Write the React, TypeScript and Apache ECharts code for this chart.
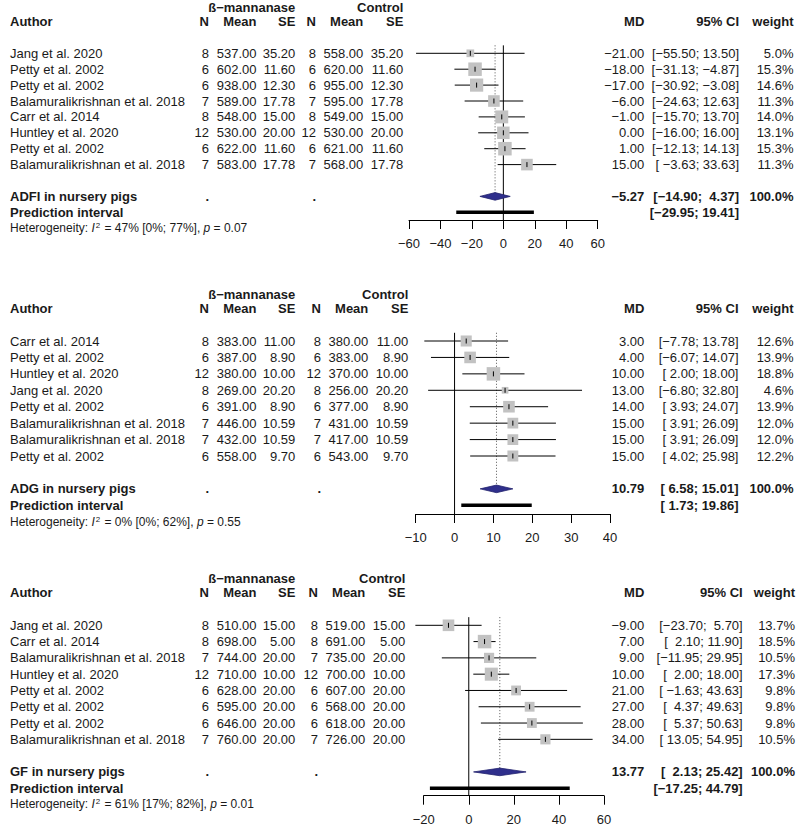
import React, { useEffect, useRef } from "react";
import * as echarts from "echarts";

const FONT = "'Liberation Sans', Arial, Helvetica, sans-serif";
const MINUS = "\u2212";
const NBSP = "\u00a0";
const TEXT_COLOR = "#1a1a1a";

// ---------- ADFI ----------
const adfiAuthors = ["Jang et al. 2020", "Petty et al. 2002", "Petty et al. 2002", "Balamuralikrishnan et al. 2018", "Carr et al. 2014", "Huntley et al. 2020", "Petty et al. 2002", "Balamuralikrishnan et al. 2018"];
const adfiTrtN = [8, 6, 6, 7, 8, 12, 6, 7];
const adfiTrtMean = [537, 602, 938, 589, 548, 530, 622, 583];
const adfiTrtSE = [35.2, 11.6, 12.3, 17.78, 15, 20, 11.6, 17.78];
const adfiCtlN = [8, 6, 6, 7, 8, 12, 6, 7];
const adfiCtlMean = [558, 620, 955, 595, 549, 530, 621, 568];
const adfiCtlSE = [35.2, 11.6, 12.3, 17.78, 15, 20, 11.6, 17.78];
const adfiMD = [-21, -18, -17, -6, -1, 0, 1, 15];
const adfiLower = [-55.5, -31.13, -30.92, -24.63, -15.7, -16, -12.13, -3.63];
const adfiUpper = [13.5, -4.87, -3.08, 12.63, 13.7, 16, 14.13, 33.63];
const adfiWeight = [5.0, 15.3, 14.6, 11.3, 14.0, 13.1, 15.3, 11.3];
const adfiSummary = [-5.27, -14.9, 4.37];
const adfiPred = [-29.95, 19.41];
const adfiHet = [47, 0, 77];
const adfiP = "0.07";
const adfiTicks = [-60, 60, 20];

// ---------- ADG ----------
const adgAuthors = ["Carr et al. 2014", "Petty et al. 2002", "Huntley et al. 2020", "Jang et al. 2020", "Petty et al. 2002", "Balamuralikrishnan et al. 2018", "Balamuralikrishnan et al. 2018", "Petty et al. 2002"];
const adgTrtN = [8, 6, 12, 8, 6, 7, 7, 6];
const adgTrtMean = [383, 387, 380, 269, 391, 446, 432, 558];
const adgTrtSE = [11, 8.9, 10, 20.2, 8.9, 10.59, 10.59, 9.7];
const adgCtlN = [8, 6, 12, 8, 6, 7, 7, 6];
const adgCtlMean = [380, 383, 370, 256, 377, 431, 417, 543];
const adgCtlSE = [11, 8.9, 10, 20.2, 8.9, 10.59, 10.59, 9.7];
const adgMD = [3, 4, 10, 13, 14, 15, 15, 15];
const adgLower = [-7.78, -6.07, 2, -6.8, 3.93, 3.91, 3.91, 4.02];
const adgUpper = [13.78, 14.07, 18, 32.8, 24.07, 26.09, 26.09, 25.98];
const adgWeight = [12.6, 13.9, 18.8, 4.6, 13.9, 12.0, 12.0, 12.2];
const adgSummary = [10.79, 6.58, 15.01];
const adgPred = [1.73, 19.86];
const adgHet = [0, 0, 62];
const adgP = "0.55";
const adgTicks = [-10, 40, 10];

// ---------- GF ----------
const gfAuthors = ["Jang et al. 2020", "Carr et al. 2014", "Balamuralikrishnan et al. 2018", "Huntley et al. 2020", "Petty et al. 2002", "Petty et al. 2002", "Petty et al. 2002", "Balamuralikrishnan et al. 2018"];
const gfTrtN = [8, 8, 7, 12, 6, 6, 6, 7];
const gfTrtMean = [510, 698, 744, 710, 628, 595, 646, 760];
const gfTrtSE = [15, 5, 20, 10, 20, 20, 20, 20];
const gfCtlN = [8, 8, 7, 12, 6, 6, 6, 7];
const gfCtlMean = [519, 691, 735, 700, 607, 568, 618, 726];
const gfCtlSE = [15, 5, 20, 10, 20, 20, 20, 20];
const gfMD = [-9, 7, 9, 10, 21, 27, 28, 34];
const gfLower = [-23.7, 2.1, -11.95, 2, -1.63, 4.37, 5.37, 13.05];
const gfUpper = [5.7, 11.9, 29.95, 18, 43.63, 49.63, 50.63, 54.95];
const gfWeight = [13.7, 18.5, 10.5, 17.3, 9.8, 9.8, 9.8, 10.5];
const gfSummary = [13.77, 2.13, 25.42];
const gfPred = [-17.25, 44.79];
const gfHet = [61, 17, 82];
const gfP = "0.01";
const gfTicks = [-20, 60, 20];

const panelTitles = ["ADFI in nursery pigs", "ADG in nursery pigs", "GF in nursery pigs"];
const trtLabel = "ß" + MINUS + "mannanase";
const ctlLabel = "Control";

// ---------- layout (pixels) ----------
const layouts = [
  { left: 409, width: 188.7, r0: 53.3, sp: 15.9, axisY: 220, bracket: 739, weight: 793.5, ctlShift: 0 },
  { left: 415.7, width: 194.3, r0: 341, sp: 16.43, axisY: 514, bracket: 738.5, weight: 793.5, ctlShift: 5 },
  { left: 423.7, width: 180.3, r0: 625.3, sp: 16.29, axisY: 795.7, bracket: 742.7, weight: 795, ctlShift: 2 },
];
const AUTHOR_X = 10;
const TRT = { n: 209, mean: 256.5, se: 295.3 };
const CTL = { n: 316, mean: 363.3, se: 403.3 };
const MD_X = 644.3;
const MAX_SQ = 13.5;
const GROUP_ROW = -2.85;

const fmt = (v: number, d = 2) => (v < 0 ? MINUS : "") + Math.abs(v).toFixed(d);
const padL = (s: string, n: number) => NBSP.repeat(Math.max(0, n - s.length)) + s;

type Cell = { row: number; x: number; text: string; align: string; bold?: boolean; size?: number; rich?: any };

function buildPanel(
  idx: number,
  authors: string[], trtN: number[], trtMean: number[], trtSE: number[],
  ctlN: number[], ctlMean: number[], ctlSE: number[],
  md: number[], lower: number[], upper: number[], weight: number[],
  summary: number[], pred: number[], het: number[], p: string, ticks: number[]
) {
  const L = layouts[idx];
  const axisRow = (L.axisY - L.r0) / L.sp;
  const top = L.r0 - 3 * L.sp;
  const ctl = { n: CTL.n + L.ctlShift, mean: CTL.mean + L.ctlShift, se: CTL.se + L.ctlShift };

  const allLo = [...lower, summary[1], pred[0]].map((v) => fmt(v));
  const allHi = [...upper, summary[2], pred[1]].map((v) => fmt(v));
  const loW = Math.max(...allLo.map((s) => s.length));
  const hiW = Math.max(...allHi.map((s) => s.length));
  const ciS = allLo.map((s, i) => "[" + padL(s, loW) + ";" + NBSP + padL(allHi[i], hiW) + "]");

  const cells: Cell[] = [];
  cells.push({ row: GROUP_ROW, x: TRT.se, text: trtLabel, align: "right", bold: true });
  cells.push({ row: GROUP_ROW, x: ctl.se, text: ctlLabel, align: "right", bold: true });
  cells.push({ row: -2, x: AUTHOR_X, text: "Author", align: "left", bold: true });
  [[TRT.n, "N"], [TRT.mean, "Mean"], [TRT.se, "SE"], [ctl.n, "N"], [ctl.mean, "Mean"], [ctl.se, "SE"], [MD_X, "MD"], [L.bracket, "95% CI"], [L.weight, "weight"]].forEach(([x, t]) =>
    cells.push({ row: -2, x: x as number, text: t as string, align: "right", bold: true })
  );
  authors.forEach((a, i) => {
    cells.push({ row: i, x: AUTHOR_X, text: a, align: "left" });
    cells.push({ row: i, x: TRT.n, text: String(trtN[i]), align: "right" });
    cells.push({ row: i, x: TRT.mean, text: trtMean[i].toFixed(2), align: "right" });
    cells.push({ row: i, x: TRT.se, text: trtSE[i].toFixed(2), align: "right" });
    cells.push({ row: i, x: ctl.n, text: String(ctlN[i]), align: "right" });
    cells.push({ row: i, x: ctl.mean, text: ctlMean[i].toFixed(2), align: "right" });
    cells.push({ row: i, x: ctl.se, text: ctlSE[i].toFixed(2), align: "right" });
    cells.push({ row: i, x: MD_X, text: fmt(md[i]), align: "right" });
    cells.push({ row: i, x: L.bracket, text: ciS[i], align: "right" });
    cells.push({ row: i, x: L.weight, text: weight[i].toFixed(1) + "%", align: "right" });
  });
  const n = authors.length;
  const sRow = n + 1;
  const pRow = n + 2;
  cells.push({ row: sRow, x: AUTHOR_X, text: panelTitles[idx], align: "left", bold: true });
  cells.push({ row: sRow, x: TRT.n, text: ".", align: "right", bold: true });
  cells.push({ row: sRow, x: ctl.n, text: ".", align: "right", bold: true });
  cells.push({ row: sRow, x: MD_X, text: fmt(summary[0]), align: "right", bold: true });
  cells.push({ row: sRow, x: L.bracket, text: ciS[n], align: "right", bold: true });
  cells.push({ row: sRow, x: L.weight, text: "100.0%", align: "right", bold: true });
  cells.push({ row: pRow, x: AUTHOR_X, text: "Prediction interval", align: "left", bold: true });
  cells.push({ row: pRow, x: L.bracket, text: ciS[n + 1], align: "right", bold: true });
  cells.push({
    row: pRow + 1, x: AUTHOR_X, align: "left", size: 12,
    text: `Heterogeneity: {i|I}{sup|2} = ${het[0]}% [${het[1]}%; ${het[2]}%], {i|p} = ${p}`,
    rich: {
      i: { fontStyle: "italic", fontSize: 12, fontFamily: FONT, fill: TEXT_COLOR },
      sup: { fontSize: 8, fontFamily: FONT, fill: TEXT_COLOR, verticalAlign: "top", textVerticalAlign: "top", padding: [0, 1, 5, 1] },
    },
  });

  const maxW = Math.max(...weight);
  const grid = { left: L.left, width: L.width, top, height: L.axisY - top };
  const xAxis = {
    gridIndex: idx, type: "value", min: ticks[0], max: ticks[1], interval: ticks[2],
    position: "bottom",
    axisLine: { show: true, onZero: false, lineStyle: { color: "#000", width: 1 } },
    axisTick: { show: true, inside: false, length: 9, lineStyle: { color: "#000", width: 1 } },
    axisLabel: {
      margin: 17, fontSize: 13, fontFamily: FONT, color: TEXT_COLOR,
      formatter: (v: number) => (v < 0 ? MINUS + Math.abs(v) : String(v)),
    },
    splitLine: { show: false },
  };
  const yAxis = { gridIndex: idx, type: "value", inverse: true, min: -3, max: axisRow, show: false };

  const refSeries = {
    type: "custom", xAxisIndex: idx, yAxisIndex: idx, silent: true,
    data: [[summary[0], sRow, 0]],
    encode: { x: 0, y: 1 },
    renderItem: (params: any, api: any) => {
      const m = api.value(0);
      const z0 = api.coord([0, -0.5]);
      const z1 = api.coord([0, axisRow]);
      const d0 = api.coord([m, -0.5]);
      const d1 = api.coord([m, sRow]);
      return {
        type: "group",
        children: [
          { type: "line", shape: { x1: d0[0], y1: d0[1], x2: d1[0], y2: d1[1] }, style: { stroke: "#555", lineWidth: 1, lineDash: [1, 2] } },
          { type: "line", shape: { x1: z0[0], y1: z0[1], x2: z1[0], y2: z1[1] }, style: { stroke: "#000", lineWidth: 1 } },
        ],
      };
    },
  };

  const studySeries = {
    type: "custom", xAxisIndex: idx, yAxisIndex: idx, silent: true,
    data: md.map((m, i) => [lower[i], upper[i], i, m, weight[i]]),
    encode: { x: [0, 1, 3], y: 2 },
    renderItem: (params: any, api: any) => {
      const r = api.value(2);
      const lo = api.coord([api.value(0), r]);
      const hi = api.coord([api.value(1), r]);
      const c = api.coord([api.value(3), r]);
      const s = MAX_SQ * Math.sqrt(api.value(4) / maxW);
      return {
        type: "group",
        children: [
          { type: "line", shape: { x1: lo[0], y1: lo[1], x2: hi[0], y2: hi[1] }, style: { stroke: "#000", lineWidth: 1 } },
          { type: "rect", shape: { x: c[0] - s / 2, y: c[1] - s / 2, width: s, height: s }, style: { fill: "#c2c2c2" } },
          { type: "line", shape: { x1: c[0], y1: c[1] - 2.5, x2: c[0], y2: c[1] + 2.5 }, style: { stroke: "#000", lineWidth: 1 } },
        ],
      };
    },
  };

  const summarySeries = {
    type: "custom", xAxisIndex: idx, yAxisIndex: idx, silent: true,
    data: [[summary[0], summary[1], summary[2], pred[0], pred[1]]],
    encode: { x: [0, 1, 2, 3, 4] },
    renderItem: (params: any, api: any) => {
      const l = api.coord([api.value(1), sRow]);
      const m = api.coord([api.value(0), sRow]);
      const h = api.coord([api.value(2), sRow]);
      const p0 = api.coord([api.value(3), pRow]);
      const p1 = api.coord([api.value(4), pRow]);
      const hh = 3.8;
      return {
        type: "group",
        children: [
          { type: "polygon", shape: { points: [[l[0], l[1]], [m[0], m[1] - hh], [h[0], h[1]], [m[0], m[1] + hh]] }, style: { fill: "#2f2f8c", stroke: "#24246e", lineWidth: 0.8 } },
          { type: "line", shape: { x1: p0[0], y1: p0[1], x2: p1[0], y2: p1[1] }, style: { stroke: "#000", lineWidth: 3.5 } },
        ],
      };
    },
  };

  const textSeries = {
    type: "custom", xAxisIndex: idx, yAxisIndex: idx, silent: true,
    data: cells.map((c) => [ticks[0], c.row]),
    encode: { x: 0, y: 1 },
    renderItem: (params: any, api: any) => {
      const cell = cells[params.dataIndex];
      const pt = api.coord([ticks[0], cell.row]);
      const style: any = {
        text: cell.text,
        textAlign: cell.align, align: cell.align,
        textVerticalAlign: "middle", verticalAlign: "middle",
        fontSize: cell.size || 13,
        fontWeight: cell.bold ? "bold" : "normal",
        fontFamily: FONT,
        fill: TEXT_COLOR,
      };
      if (cell.rich) style.rich = cell.rich;
      return { type: "text", x: cell.x, y: pt[1], style };
    },
  };

  return { grid, xAxis, yAxis, series: [refSeries, studySeries, summarySeries, textSeries] };
}

export default function App() {
  const ref = useRef<HTMLDivElement>(null);
  useEffect(() => {
    if (!ref.current) return;
    const chart = echarts.init(ref.current, undefined, { renderer: "svg" });
    const panels = [
      buildPanel(0, adfiAuthors, adfiTrtN, adfiTrtMean, adfiTrtSE, adfiCtlN, adfiCtlMean, adfiCtlSE, adfiMD, adfiLower, adfiUpper, adfiWeight, adfiSummary, adfiPred, adfiHet, adfiP, adfiTicks),
      buildPanel(1, adgAuthors, adgTrtN, adgTrtMean, adgTrtSE, adgCtlN, adgCtlMean, adgCtlSE, adgMD, adgLower, adgUpper, adgWeight, adgSummary, adgPred, adgHet, adgP, adgTicks),
      buildPanel(2, gfAuthors, gfTrtN, gfTrtMean, gfTrtSE, gfCtlN, gfCtlMean, gfCtlSE, gfMD, gfLower, gfUpper, gfWeight, gfSummary, gfPred, gfHet, gfP, gfTicks),
    ];
    chart.setOption({
      animation: false,
      backgroundColor: "#ffffff",
      grid: panels.map((p) => p.grid),
      xAxis: panels.map((p) => p.xAxis),
      yAxis: panels.map((p) => p.yAxis),
      series: panels.flatMap((p) => p.series),
    } as any);
    return () => chart.dispose();
  }, []);
  return <div ref={ref} style={{ position: "absolute", left: 0, top: 0, width: 798, height: 826 }} />;
}
